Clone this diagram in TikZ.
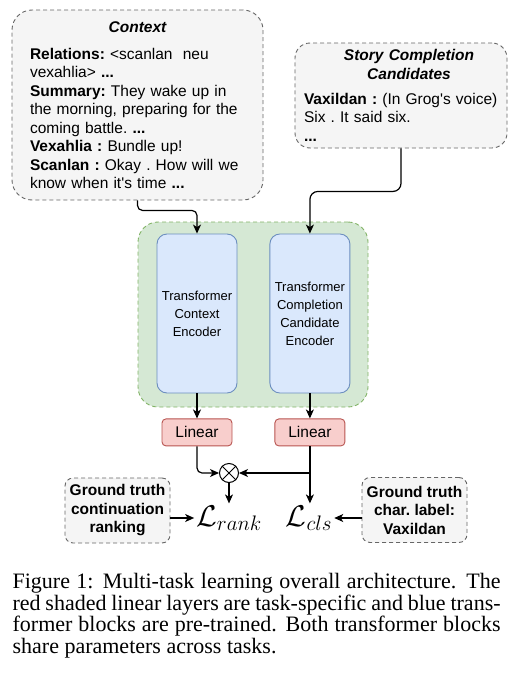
\documentclass[tikz,border=0pt]{standalone}
\RequirePackage{fix-cm}
\usepackage{fontspec}
\setmainfont{Liberation Sans}
\newfontfamily\capfont{Liberation Serif}
\usetikzlibrary{
arrows.meta,
positioning
}
\definecolor{fillgray}{HTML}{F5F5F5}
\definecolor{linegray}{HTML}{666666}
\definecolor{fillgreen}{HTML}{D5E8D4}
\definecolor{linegreen}{HTML}{82B366}
\definecolor{fillblue}{HTML}{DAE8FC}
\definecolor{lineblue}{HTML}{6C8EBF}
\definecolor{fillred}{HTML}{F8CECC}
\definecolor{linered}{HTML}{B85450}
\tikzset{>={Stealth[length=9pt,width=8pt,inset=2.5pt]}}

\begin{document}
\begin{tikzpicture}[x=1pt,y=1pt,node distance=25pt,line width=1.2pt,
    graybox/.style={draw=linegray,fill=fillgray,line width=0.9pt,dash pattern=on 4pt off 3pt,rounded corners=#1,font=\ts},
    graybox/.default=8pt,
    encbox/.style={draw=lineblue,fill=fillblue,line width=0.9pt,rounded corners=10pt,minimum width=80pt,minimum height=159pt,align=center,font=\es},
    linbox/.style={draw=linered,fill=fillred,line width=0.9pt,rounded corners=4pt,minimum width=70pt,minimum height=27pt,font=\ts},
    gtbox/.style={graybox,minimum width=105pt,minimum height=65pt,align=center,font=\ts\bfseries}]
    % font sizes
    \def\ts{\fontsize{15.5}{18.5}\selectfont\frenchspacing}
    \def\es{\fontsize{13}{18}\selectfont}
    \def\ls{\fontsize{30}{36}\selectfont}
    \def\cs{\capfont\fontsize{22}{21.7}\selectfont}
    \useasboundingbox (0,0) rectangle (513,-680);

    % inputs
    \node[graybox=20pt,minimum width=251pt,minimum height=190pt,text width=215pt,align=left] (context) at (137.5,-105) {%
        {\centering\bfseries\itshape Context\par}\vspace{8.5pt}
        \textbf{Relations:} <scanlan\ \ neu\\
        vexahlia> \textbf{...}\\
        \textbf{Summary:} They wake up in\\
        the morning, preparing for the\\
        coming battle. \textbf{...}\\
        \textbf{Vexahlia :} Bundle up!\\
        \textbf{Scanlan :} Okay . How will we\\
        know when it\textquotesingle s time \textbf{...}};
    \node[graybox=15pt,minimum width=212pt,minimum height=105pt,text width=194pt,align=left] (story) at (401,-95.5) {%
        {\centering\bfseries\itshape\hspace*{16pt}Story Completion\\\hspace*{16pt}Candidates\par}\vspace{6.5pt}
        \mbox{\textbf{Vaxildan :} (In Grog\textquotesingle s voice)}\\
        Six . It said six.\\
        \textbf{...}};

    % shared encoders
    \node[draw=linegreen,fill=fillgreen,line width=0.9pt,dash pattern=on 4pt off 3pt,rounded corners=20pt,minimum width=230pt,minimum height=185pt] (shared) at (253,-314.5) {};
    \node[encbox] (ctxenc) at (197,-313.5) {Transformer\\Context\\Encoder};
    \node[encbox,right=32pt of ctxenc] (candenc) {Transformer\\Completion\\Candidate\\Encoder};
    \node[linbox,below=of ctxenc] (linctx) {Linear};
    \node[linbox,below=of candenc] (lincand) {Linear};

    % losses
    \node[circle,draw,line width=1pt,minimum size=19pt,inner sep=0pt] (mult) at (229,-473) {};
    \draw[line width=1pt] (mult.north west) -- (mult.south east) (mult.north east) -- (mult.south west);
    \node[anchor=base,inner sep=1.5pt,font=\ls] (lrank) at (229,-526) {$\mathcal{L}_{rank}$};
    \node[anchor=base,inner sep=1.5pt,font=\ls] (lcls) at (309,-526) {$\mathcal{L}_{cls}$};
    \node[gtbox] (gtrank) at (117.5,-510.5) {Ground truth\\continuation\\ranking};
    \node[gtbox] (gtcls) at (414.5,-510) {Ground truth\\char. label:\\Vaxildan};
    \coordinate (split) at (lincand.south |- mult);

    \draw[->,rounded corners=5pt] (context.south) -- ++(0,-10) -| (ctxenc.north);
    \draw[->,rounded corners=8pt] (story.south) -- ++(0,-43) -| (candenc.north);
    \draw[->] (ctxenc) -- (linctx);
    \draw[->] (candenc) -- (lincand);
    \draw[->,rounded corners=5pt] (linctx) |- (mult);
    \draw[->] (lincand) -- (lincand |- lcls.north);
    \draw[->] (split) -- (mult);
    \draw[->] (mult) -- (lrank);
    \draw[->] (gtrank.east |- lrank) -- (lrank);
    \draw[->] (gtcls.west |- lcls) -- (lcls);

    \node[anchor=north west,inner sep=0pt,text width=488pt,align=justify,font=\cs] (caption) at (12,-572.5) {Figure 1: Multi-task learning overall architecture. The\linebreak red shaded linear layers are task-specific and blue trans-\linebreak former blocks are pre-trained. Both transformer blocks\linebreak share parameters across tasks.};
\end{tikzpicture}
\end{document}
